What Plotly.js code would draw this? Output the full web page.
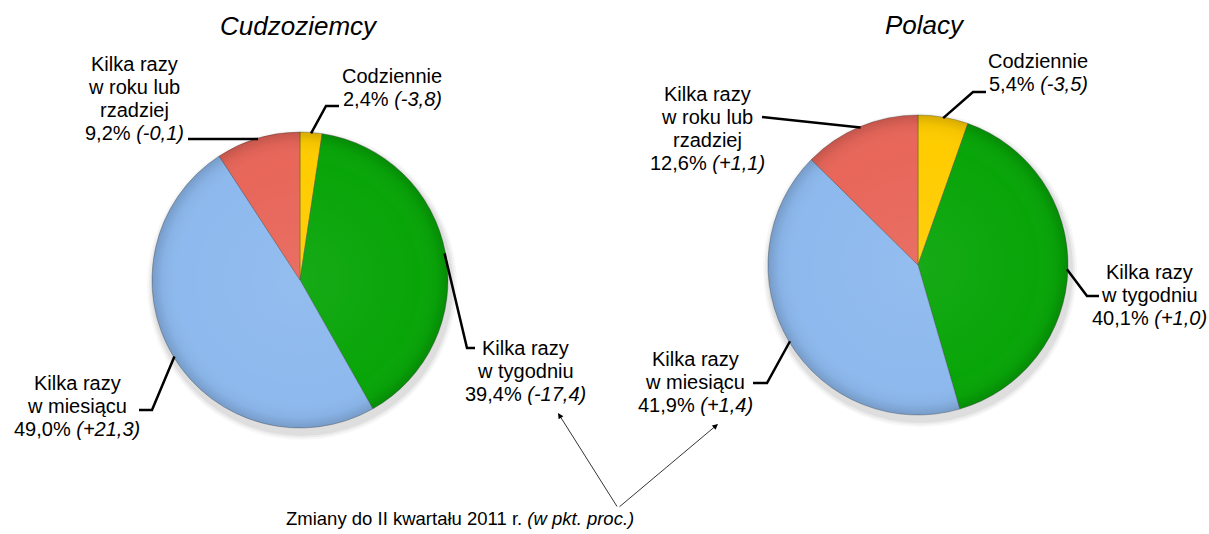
<!DOCTYPE html>
<html>
<head>
<meta charset="utf-8">
<script src="https://cdn.plot.ly/plotly-3.0.1.min.js"></script>
<style>
  html, body { margin: 0; padding: 0; background: #ffffff; }
  #chart { width: 1209px; height: 534px; }
</style>
</head>
<body>
<div id="chart"></div>
<script>
// ---------------- DATA ----------------
const categories = ['Codziennie', 'Kilka razy w tygodniu', 'Kilka razy w miesiącu', 'Kilka razy w roku lub rzadziej'];
const categoryLines = [
  ['Codziennie'],
  ['Kilka razy', 'w tygodniu'],
  ['Kilka razy', 'w miesiącu'],
  ['Kilka razy', 'w roku lub', 'rzadziej']
];
const foreignValues = [2.4, 39.4, 49.0, 9.2];
const foreignChanges = ['-3,8', '-17,4', '+21,3', '-0,1'];
const polishValues = [5.4, 40.1, 41.9, 12.6];
const polishChanges = ['-3,5', '+1,0', '+1,4', '+1,1'];
const groupTitles = ['Cudzoziemcy', 'Polacy'];
const noteText = 'Zmiany do II kwartału 2011 r.';
const noteItalic = '(w pkt. proc.)';

// ---------------- STYLE / LAYOUT ----------------
const W = 1209, H = 534;
const FONT = 'Liberation Sans, Arial, Helvetica, sans-serif';
const sliceColors = ['#FFCC00', '#08A508', '#8DB9EE', '#E8665A'];
const LABEL_SIZE = 20, LINE_GAP = 23;

const pies = [
  {
    values: foreignValues, changes: foreignChanges, title: groupTitles[0],
    cx: 300, cy: 280, r: 148, titleX: 299, titleBase: 35,
    labels: [
      {x: 392, base: 83,  elbow: [326, 106], end: [339, 106]},
      {x: 525, base: 355, elbow: [467, 348], end: [475, 348]},
      {x: 77,  base: 390, elbow: [152, 410], end: [139, 410]},
      {x: 134, base: 71,  elbow: null,       end: [188, 139]}
    ]
  },
  {
    values: polishValues, changes: polishChanges, title: groupTitles[1],
    cx: 918, cy: 265, r: 150, titleX: 925, titleBase: 34,
    labels: [
      {x: 1038, base: 68,  elbow: [973, 92],   end: [986, 92]},
      {x: 1149, base: 279, elbow: [1087, 296], end: [1099, 296]},
      {x: 695,  base: 366, elbow: [767, 383],  end: [753, 383]},
      {x: 707,  base: 101, elbow: null,        end: [762, 117]}
    ]
  }
];

const px = x => x / W;
const py = y => 1 - y / H;
const fmt = v => v.toFixed(1).replace('.', ',');

// subtle bevel overlay (radial shading toward the rim)
const bevelSvg = '<svg xmlns="http://www.w3.org/2000/svg" width="200" height="200" viewBox="0 0 200 200">' +
  '<defs><radialGradient id="g" cx="50%" cy="50%" r="50%">' +
  '<stop offset="0%" stop-color="#fff" stop-opacity="0.06"/>' +
  '<stop offset="80%" stop-color="#fff" stop-opacity="0"/>' +
  '<stop offset="93%" stop-color="#000" stop-opacity="0.04"/>' +
  '<stop offset="100%" stop-color="#000" stop-opacity="0.16"/>' +
  '</radialGradient></defs><circle cx="100" cy="100" r="100" fill="url(#g)"/></svg>';
const bevelSrc = 'data:image/svg+xml;charset=utf-8,' + encodeURIComponent(bevelSvg);

const traces = [];
const annotations = [];
const shapes = [];
const images = [];

pies.forEach(p => {
  // soft shadow under the pie
  [[7, 0.03], [5, 0.045], [3, 0.06]].forEach(([extra, a]) => {
    shapes.push({
      type: 'circle', xref: 'paper', yref: 'paper', layer: 'below',
      x0: px(p.cx - p.r - extra + 2), x1: px(p.cx + p.r + extra + 2),
      y0: py(p.cy + p.r + extra + 5), y1: py(p.cy - p.r - extra + 5),
      fillcolor: 'rgba(0,0,0,' + a + ')', line: {width: 0}
    });
  });

  traces.push({
    type: 'pie',
    values: p.values,
    labels: categories,
    sort: false,
    direction: 'clockwise',
    rotation: 0,
    textinfo: 'none',
    hoverinfo: 'label+percent',
    showlegend: false,
    domain: {x: [px(p.cx - p.r), px(p.cx + p.r)], y: [py(p.cy + p.r), py(p.cy - p.r)]},
    marker: {colors: sliceColors, line: {color: 'rgba(60,60,60,0.35)', width: 1}}
  });

  images.push({
    source: bevelSrc, xref: 'paper', yref: 'paper',
    x: px(p.cx - p.r), y: py(p.cy - p.r),
    sizex: 2 * p.r / W, sizey: 2 * p.r / H,
    xanchor: 'left', yanchor: 'top', sizing: 'stretch', layer: 'above', opacity: 1
  });

  // title
  annotations.push({
    xref: 'paper', yref: 'paper', x: px(p.titleX), y: py(p.titleBase - 9),
    xanchor: 'center', yanchor: 'middle', showarrow: false,
    text: '<i>' + p.title + '</i>', font: {family: FONT, size: 26, color: '#000'}
  });

  const total = p.values.reduce((a, b) => a + b, 0);
  let cum = 0;
  p.values.forEach((v, i) => {
    const mid = (cum + v / 2) / total * 2 * Math.PI;
    cum += v;
    const sx = p.cx + (p.r - 1) * Math.sin(mid);
    const sy = p.cy - (p.r - 1) * Math.cos(mid);
    const L = p.labels[i];
    let path = 'M ' + px(sx) + ' ' + py(sy);
    if (L.elbow) path += ' L ' + px(L.elbow[0]) + ' ' + py(L.elbow[1]);
    path += ' L ' + px(L.end[0]) + ' ' + py(L.end[1]);
    shapes.push({type: 'path', xref: 'paper', yref: 'paper', path: path,
                 line: {color: '#000', width: 2.5}});

    const lines = categoryLines[i].slice();
    lines.push(fmt(v) + '% <i>(' + p.changes[i] + ')</i>');
    lines.forEach((t, k) => {
      annotations.push({
        xref: 'paper', yref: 'paper', x: px(L.x), y: py(L.base + k * LINE_GAP - 7),
        xanchor: 'center', yanchor: 'middle', showarrow: false,
        text: t, font: {family: FONT, size: LABEL_SIZE, color: '#000'}
      });
    });
  });
});

// note at bottom with arrows
const apex = [618, 508];
const arrowTips = [[558, 413], [718, 424]];
annotations.push({
  xref: 'paper', yref: 'paper', x: px(460), y: py(525 - 6.5),
  xanchor: 'center', yanchor: 'middle', showarrow: false,
  text: noteText + ' <i>' + noteItalic + '</i>',
  font: {family: FONT, size: 18.5, color: '#000'}
});
arrowTips.forEach(t => {
  annotations.push({
    xref: 'paper', yref: 'paper', x: px(t[0]), y: py(t[1]),
    ax: apex[0] - t[0], ay: apex[1] - t[1], text: '',
    showarrow: true, arrowhead: 2, arrowsize: 1.4, arrowwidth: 0.8,
    arrowcolor: '#000', standoff: 0
  });
});

const layout = {
  width: W, height: H,
  margin: {l: 0, r: 0, t: 0, b: 0},
  paper_bgcolor: '#ffffff',
  plot_bgcolor: '#ffffff',
  showlegend: false,
  annotations: annotations,
  shapes: shapes,
  images: images,
  font: {family: FONT}
};

Plotly.newPlot('chart', traces, layout, {displayModeBar: false, staticPlot: true});
</script>
</body>
</html>
